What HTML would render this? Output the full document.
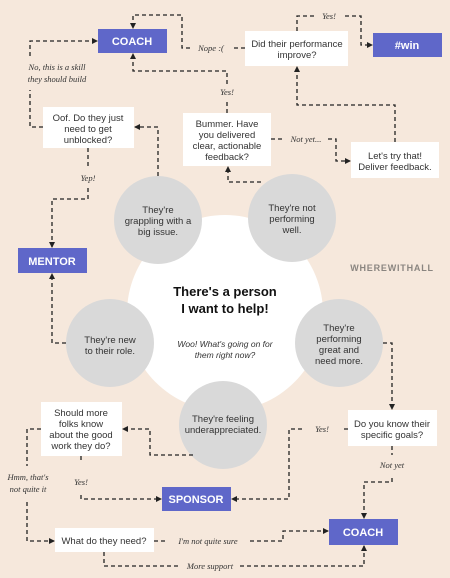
<!DOCTYPE html>
<html><head><meta charset="utf-8"><style>
html,body{margin:0;padding:0;background:#f6e8dc;}
svg{display:block;font-family:"Liberation Sans",sans-serif;}
.d{fill:none;stroke:#222;stroke-width:1.3;stroke-dasharray:4 3;}
.b{fill:#fff;}
.bl{fill:#5f67c9;}
.bt{fill:#fff;font-weight:bold;font-size:11px;text-anchor:middle;}
.t{fill:#333;font-size:9.5px;text-anchor:middle;}
.h{fill:#333;font-size:8.5px;font-style:italic;font-family:"Liberation Serif",serif;text-anchor:middle;}
.g{fill:#d9d9d9;}
</style></head><body>
<svg width="450" height="578" viewBox="0 0 450 578">
<defs><marker id="a" markerWidth="6" markerHeight="6" refX="5" refY="3" orient="auto" markerUnits="userSpaceOnUse"><path d="M0,0 L6,3 L0,6z" fill="#222"/></marker></defs>
<rect width="450" height="578" fill="#f6e8dc"/>
<circle cx="225" cy="313" r="98" fill="#fff"/>
<circle class="g" cx="158" cy="220" r="44"/>
<circle class="g" cx="292" cy="218" r="44"/>
<circle class="g" cx="339" cy="343" r="44"/>
<circle class="g" cx="110" cy="343" r="44"/>
<circle class="g" cx="223" cy="425" r="44"/>
<!-- connectors -->
<path class="d" d="M245,48 H233 M190,48 H182 V15 H133 V28" marker-end="url(#a)"/>
<path class="d" d="M297,31 V16 H314 M345,16 H361 V45 H372" marker-end="url(#a)"/>
<path class="d" d="M227,113 V100 M227,84 V71 H133 V54" marker-end="url(#a)"/>
<path class="d" d="M271,139 H285 M328,139 H336 V161 H350" marker-end="url(#a)"/>
<path class="d" d="M395,142 V105 H297 V67" marker-end="url(#a)"/>
<path class="d" d="M261,182 H228 V167" marker-end="url(#a)"/>
<path class="d" d="M158,176 V127 H135" marker-end="url(#a)"/>
<path class="d" d="M43,127 H30 V90 M30,56 V41 H97" marker-end="url(#a)"/>
<path class="d" d="M88,148 V168 M88,188 V199 H52 V247" marker-end="url(#a)"/>
<path class="d" d="M66,343 H52 V274" marker-end="url(#a)"/>
<path class="d" d="M383,343 H392 V409" marker-end="url(#a)"/>
<path class="d" d="M392,446 V455 M392,478 V482 H364 V518" marker-end="url(#a)"/>
<path class="d" d="M348,429 H344 M302,429 H289 V499 H232" marker-end="url(#a)"/>
<path class="d" d="M193,455 H150 V429 H123" marker-end="url(#a)"/>
<path class="d" d="M81,456 V462 M81,495 V499 H161" marker-end="url(#a)"/>
<path class="d" d="M41,429 H27 V466 M27,502 V541 H54" marker-end="url(#a)"/>
<path class="d" d="M154,541 H165 M250,541 H283 V531 H328" marker-end="url(#a)"/>
<path class="d" d="M104,552 V566 H180 M240,566 H364 V546" marker-end="url(#a)"/>
<!-- labels -->
<text class="h" x="211" y="51">Nope :(</text>
<text class="h" x="329" y="19">Yes!</text>
<text class="h" x="227" y="95">Yes!</text>
<text class="h" x="306" y="142">Not yet...</text>
<text class="h" x="57" y="70">No, this is a skill</text>
<text class="h" x="57" y="82">they should build</text>
<text class="h" x="88" y="181">Yep!</text>
<text class="h" x="392" y="468">Not yet</text>
<text class="h" x="322" y="432">Yes!</text>
<text class="h" x="81" y="485">Yes!</text>
<text class="h" x="28" y="480">Hmm, that's</text>
<text class="h" x="28" y="492">not quite it</text>
<text class="h" x="208" y="544">I'm not quite sure</text>
<text class="h" x="210" y="569">More support</text>
<!-- boxes -->
<rect class="bl" x="98" y="29" width="69" height="24"/><text class="bt" x="132" y="45">COACH</text>
<rect class="bl" x="373" y="33" width="69" height="24"/><text class="bt" x="407" y="49">#win</text>
<rect class="bl" x="18" y="248" width="69" height="25"/><text class="bt" x="52" y="265" font-size="10">MENTOR</text>
<rect class="bl" x="162" y="487" width="69" height="24"/><text class="bt" x="196" y="503" font-size="10">SPONSOR</text>
<rect class="bl" x="329" y="519" width="69" height="26"/><text class="bt" x="363" y="536">COACH</text>
<rect class="b" x="245" y="31" width="103" height="35"/>
<text class="t" x="297" y="47">Did their performance</text><text class="t" x="297" y="58">improve?</text>
<rect class="b" x="43" y="107" width="91" height="41"/>
<text class="t" x="88" y="121">Oof. Do they just</text><text class="t" x="88" y="132">need to get</text><text class="t" x="88" y="143">unblocked?</text>
<rect class="b" x="183" y="113" width="88" height="53"/>
<text class="t" x="227" y="127">Bummer. Have</text><text class="t" x="227" y="138">you delivered</text><text class="t" x="227" y="149">clear, actionable</text><text class="t" x="227" y="160">feedback?</text>
<rect class="b" x="351" y="142" width="88" height="36"/>
<text class="t" x="395" y="159">Let's try that!</text><text class="t" x="395" y="170">Deliver feedback.</text>
<rect class="b" x="41" y="402" width="81" height="54"/>
<text class="t" x="81" y="416">Should more</text><text class="t" x="81" y="427">folks know</text><text class="t" x="81" y="438">about the good</text><text class="t" x="81" y="449">work they do?</text>
<rect class="b" x="348" y="410" width="89" height="36"/>
<text class="t" x="392" y="427">Do you know their</text><text class="t" x="392" y="438">specific goals?</text>
<rect class="b" x="55" y="528" width="99" height="24"/>
<text class="t" x="104" y="544">What do they need?</text>
<!-- circle text -->
<text class="t" x="158" y="213">They're</text><text class="t" x="158" y="224">grappling with a</text><text class="t" x="158" y="235">big issue.</text>
<text class="t" x="292" y="211">They're not</text><text class="t" x="292" y="222">performing</text><text class="t" x="292" y="233">well.</text>
<text class="t" x="339" y="331">They're</text><text class="t" x="339" y="342">performing</text><text class="t" x="339" y="353">great and</text><text class="t" x="339" y="364">need more.</text>
<text class="t" x="110" y="343">They're new</text><text class="t" x="110" y="354">to their role.</text>
<text class="t" x="223" y="422">They're feeling</text><text class="t" x="223" y="433">underappreciated.</text>
<text x="225" y="296" text-anchor="middle" font-weight="bold" font-size="13" fill="#111">There's a person</text>
<text x="225" y="313" text-anchor="middle" font-weight="bold" font-size="13" fill="#111">I want to help!</text>
<text x="225" y="347" text-anchor="middle" font-style="italic" font-size="8.5" fill="#333">Woo! What's going on for</text>
<text x="225" y="358" text-anchor="middle" font-style="italic" font-size="8.5" fill="#333">them right now?</text>
<text x="392" y="271" text-anchor="middle" font-weight="bold" font-size="9" fill="#8a8580" letter-spacing="0.8">WHEREWITHALL</text>
</svg>
</body></html>
